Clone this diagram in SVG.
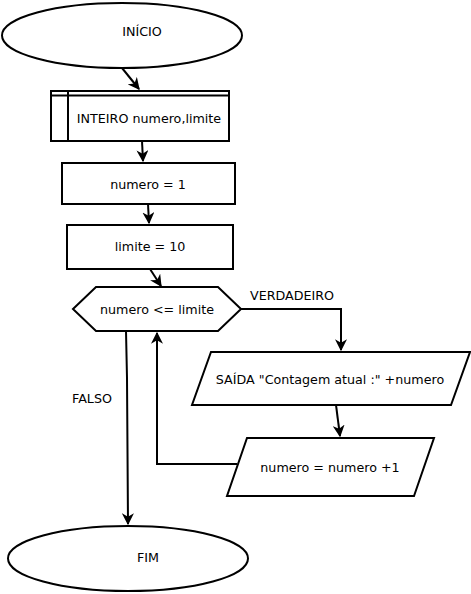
<svg xmlns="http://www.w3.org/2000/svg" width="471" height="594" viewBox="0 0 471 594">
<style>
.s{fill:#fff;stroke:#000;stroke-width:2}
.c{fill:none;stroke:#000;stroke-width:2}
text{font-family:"DejaVu Sans",sans-serif;font-size:12.7px;fill:#000;text-anchor:middle;dominant-baseline:central}
</style>
<defs>
<marker id="a" viewBox="0 0 10 10" refX="9" refY="5" markerWidth="6" markerHeight="6" orient="auto" markerUnits="strokeWidth">
<path d="M0,0 L10,5 L0,10 L3,5 Z" fill="#000"/>
</marker>
</defs>
<g id="connectors">
<path class="c" d="M122,68 L139,89" marker-end="url(#a)"/>
<path class="c" d="M142,141 L143,161" marker-end="url(#a)"/>
<path class="c" d="M148,204 L149,223" marker-end="url(#a)"/>
<path class="c" d="M150,269 L161,286" marker-end="url(#a)"/>
<path class="c" d="M241,309 L341,309 L341,350" marker-end="url(#a)"/>
<path class="c" d="M336,405 L340,436" marker-end="url(#a)"/>
<path class="c" d="M237,464 L157,464 L157,333" marker-end="url(#a)"/>
<path class="c" d="M126,331 L127,378 L128,524" marker-end="url(#a)"/>
<text x="292" y="295">VERDADEIRO</text>
<text x="92" y="398">FALSO</text>
</g>
<g id="inicio">
<ellipse class="s" cx="122" cy="35.5" rx="120" ry="32.5"/>
<text x="142" y="31">INÍCIO</text>
</g>
<g id="declara">
<rect class="s" x="51" y="91" width="178" height="50"/>
<path class="c" d="M68,91 L68,141 M51,95.5 L229,95.5"/>
<text x="149" y="118">INTEIRO numero,limite</text>
</g>
<g id="numero1">
<rect class="s" x="62" y="163" width="173" height="41"/>
<text x="148" y="184">numero = 1</text>
</g>
<g id="limite10">
<rect class="s" x="67" y="225" width="166" height="44"/>
<text x="150" y="246">limite = 10</text>
</g>
<g id="decisao">
<path class="s" d="M73,309 L96,287 L218,287 L241,309 L218,331 L96,331 Z"/>
<text x="157" y="309">numero &lt;= limite</text>
</g>
<g id="saida">
<path class="s" d="M211,352 L470,352 L451,405 L192,405 Z"/>
<text x="330" y="379">SAÍDA "Contagem atual :" +numero</text>
</g>
<g id="incremento">
<path class="s" d="M247,438 L434,438 L414,496 L227,496 Z"/>
<text x="330" y="467">numero = numero +1</text>
</g>
<g id="fim">
<ellipse class="s" cx="128" cy="558.5" rx="120" ry="32.5"/>
<text x="148" y="557">FIM</text>
</g>
</svg>
